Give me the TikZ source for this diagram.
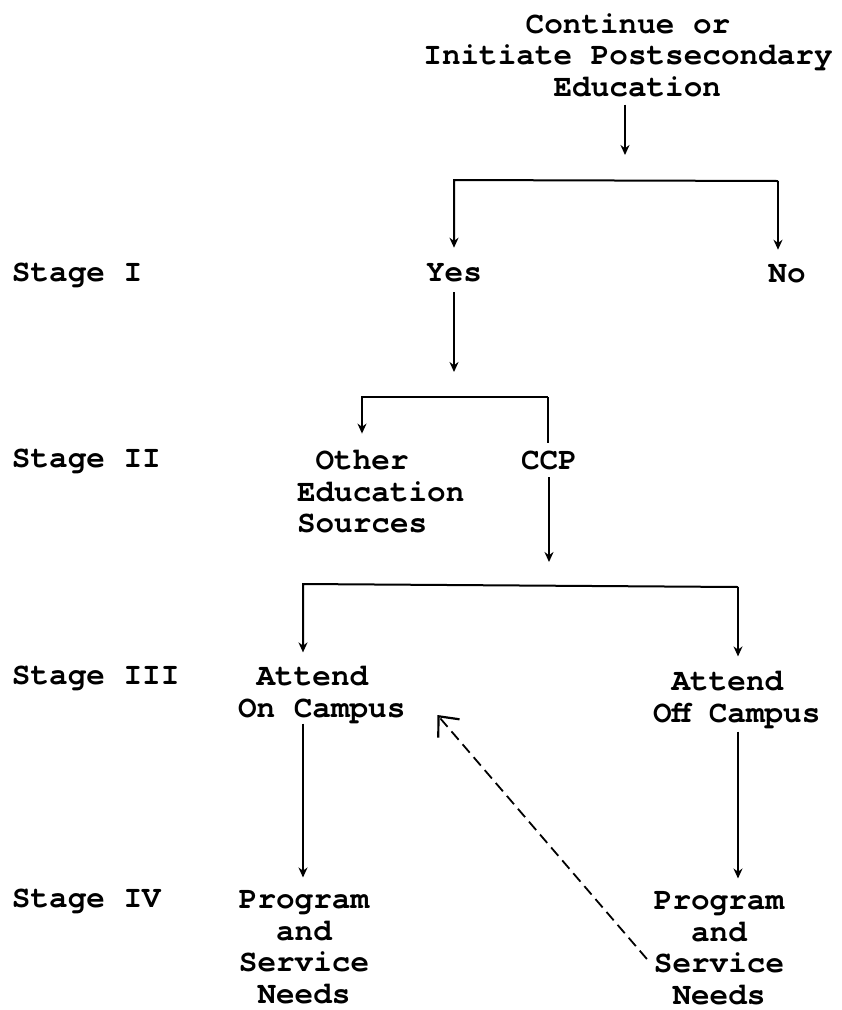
\documentclass[tikz,border=0pt]{standalone}
\usepackage{fontspec}
\setmonofont{TeX Gyre Cursor}
\usetikzlibrary{arrows.meta,calc}
\begin{document}
\begin{tikzpicture}[x=1pt,y=-1pt,
  lbl/.style={font=\ttfamily\bfseries\fontsize{31}{31.5}\selectfont, inner sep=0pt, outer sep=0pt},
  conn/.style={line width=2pt},
  arr/.style={conn, -{Stealth[length=10pt,width=9pt]}},
  dsh/.style={line width=1.8pt, dash pattern=on 11pt off 6pt, -{Straight Barb[length=16pt,width=28pt,line width=2.2pt]}}]
\useasboundingbox (0,0) rectangle (842,1010);

% nodes
\node[lbl, align=center] (title) at (628,55) {Continue or\\Initiate Postsecondary\\\hphantom{E}Education};
\node[lbl] (yes) at (454,273) {Yes};
\node[lbl] (no) at (787,274) {No};
\node[lbl, anchor=west] (s1) at (12,275) {Stage I};
\node[lbl, anchor=west] (s2) at (12,461) {Stage II};
\node[lbl, anchor=west] (s3) at (12,678) {Stage III};
\node[lbl, anchor=west] (s4) at (12,901) {Stage IV};
\node[lbl, align=left, anchor=west] (other) at (297,492) {\hphantom{O}Other\\Education\\Sources};
\node[lbl] (ccp) at (549,460) {CCP};
\node[lbl, align=left, anchor=west] (aon) at (238,695) {\hphantom{O}Attend\\On Campus};
\node[lbl, align=left, anchor=west] (aoff) at (653,700) {\hphantom{O}Attend\\Off Campus};
\node[lbl, align=center] (pl) at (304,947) {Program\\and\\Service\\Needs};
\node[lbl, align=center] (pr) at (719,948) {Program\\and\\Service\\Needs};

% junction coordinates
\coordinate (t2) at (625,155);
\coordinate (b1l) at (454,180);
\coordinate (b1r) at (778,181);
\coordinate (t3) at (454,372);
\coordinate (b2l) at (362,397);
\coordinate (b2r) at (548,397);
\coordinate (t4) at (549,562);
\coordinate (b3l) at (303,584);
\coordinate (b3r) at (738,587);

% connectors
\draw[arr] ($(title.south -| t2)+(0,8)$) -- (t2);
\draw[arr] (b1r) -- (b1l) -- ($(yes.north)+(0,-16)$);
\draw[arr] (b1r) -- ($(no.north -| b1r)+(0,-15)$);
\draw[arr] ($(yes.south)+(0,10)$) -- (t3);
\draw[arr] (b2r) -- (b2l) -- ($(b2l |- other.north)+(0,-17)$);
\draw[conn] (b2r) -- ($(b2r |- ccp.north)+(0,-8)$);
\draw[arr] ($(ccp.south)+(0,8)$) -- (t4);
\draw[arr] (b3r) -- (b3l) -- ($(b3l |- aon.north)+(0,-14)$);
\draw[arr] (b3r) -- ($(b3r |- aoff.north)+(0,-15)$);
\draw[arr] (b3l |- aon.south) -- ($(b3l |- pl.north)+(0,-13)$);
\draw[arr] ($(b3r |- aoff.south)+(0,3)$) -- ($(b3r |- pr.north)+(0,-13)$);
\draw[dsh] ($(pr.west)+(-7,11)$) -- ($(aon.east)+(32,20)$);
\end{tikzpicture}
\end{document}
